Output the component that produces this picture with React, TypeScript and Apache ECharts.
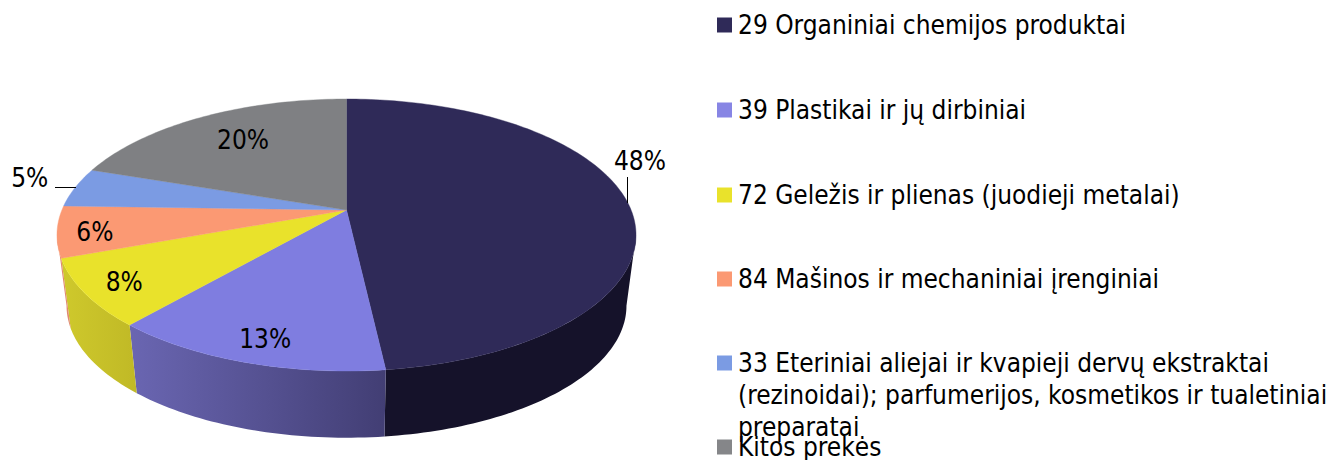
import React, { useEffect, useRef } from "react";
import * as echarts from "echarts";

const categories = [
  "29 Organiniai chemijos produktai",
  "39 Plastikai ir jų dirbiniai",
  "72 Geležis ir plienas (juodieji metalai)",
  "84 Mašinos ir mechaniniai įrenginiai",
  "33 Eteriniai aliejai ir kvapieji dervų ekstraktai",
  "Kitos prekės",
];
const legendContinuation = [
  "(rezinoidai); parfumerijos, kosmetikos ir tualetiniai",
  "preparatai",
];
const shares = [48.2, 13.2, 8.0, 6.1, 4.7, 19.8];

const topColors = ["#2f2a58", "#7f7de0", "#e9e22b", "#fb9973", "#7b9be3", "#7f8083"];
const legendColors = ["#2f2a58", "#8785e4", "#e9e22b", "#fb9973", "#7b9be3", "#858689"];
const sideStops = [
  ["#15122a", "#15122a"],
  ["#6a66b2", "#423e74"],
  ["#cfc92c", "#c0b926"],
  ["#e08a70", "#e08a70"],
  ["#6a86c4", "#6a86c4"],
  ["#6c6d70", "#6c6d70"],
];
const legendTops = [12, 97, 182, 266, 350, 434];
const labelRadius = [1.177, 0.866, 0.87, 0.876, 1.19, 0.71];
const labelNudge = [[-37, -40], [5, 1], [2, 1], [1, 3], [4, -5], [3, -1]];

// Perspective of the pie's disc: top and bottom faces share one foreshortening.
const DEPTH = 0.1838;
const TOP_FACE = { x: 346.5, y: 210, a: 284.6, b: 131.4 };
const BOTTOM_FACE = { x: 346.5, y: 281.5, a: 275.2, b: 127.5 };
const FONT = "'DejaVu Sans Condensed', 'DejaVu Sans', sans-serif";
const FONT_SIZE = 26;

const total = shares.reduce((s, v) => s + v, 0);
const project = (face: typeof TOP_FACE, theta: number, r = 1): number[] => {
  const s = Math.sin(theta);
  const c = Math.cos(theta);
  const w = 1 + DEPTH * r * c;
  return [face.x + (face.a * r * s) / w, face.y - (face.b * r * c) / w];
};
const arc = (face: typeof TOP_FACE, from: number, to: number): number[][] => {
  const n = Math.max(2, Math.ceil(Math.abs(to - from) / 0.02));
  const pts: number[][] = [];
  for (let i = 0; i <= n; i++) pts.push(project(face, from + ((to - from) * i) / n));
  return pts;
};
const FRONT_FROM = Math.acos(-DEPTH);
const FRONT_TO = 2 * Math.PI - FRONT_FROM;

export default function App() {
  const ref = useRef<HTMLDivElement>(null);
  useEffect(() => {
    const chart = echarts.init(ref.current!, undefined, { renderer: "svg" });
    let cum = 0;
    const series = categories.map((name, idx) => {
      const startShare = cum;
      cum += shares[idx];
      return {
        type: "custom",
        name,
        coordinateSystem: "none",
        silent: true,
        itemStyle: { color: legendColors[idx] },
        data: [shares[idx]],
        renderItem: (_p: any, api: any) => {
          const v = api.value(0);
          const t0 = (startShare / total) * 2 * Math.PI;
          const t1 = t0 + (v / total) * 2 * Math.PI;
          const color = topColors[idx];
          const children: any[] = [];
          const f0 = Math.max(t0, FRONT_FROM);
          const f1 = Math.min(t1, FRONT_TO);
          if (f1 > f0) {
            children.push({
              type: "polygon",
              shape: {
                points: [...arc(TOP_FACE, f0, f1), ...arc(BOTTOM_FACE, f1, f0)],
              },
              style: {
                fill: {
                  type: "linear", x: 0, y: 0, x2: 1, y2: 0,
                  colorStops: [
                    { offset: 0, color: sideStops[idx][0] },
                    { offset: 1, color: sideStops[idx][1] },
                  ],
                },
              },
            });
          }
          children.push({
            type: "polygon",
            shape: { points: [[TOP_FACE.x, TOP_FACE.y], ...arc(TOP_FACE, t0, t1)] },
            style: { fill: color, stroke: color, lineWidth: 0.4 },
            z2: 2,
          });
          const mid = (t0 + t1) / 2;
          const [lx, ly] = project(TOP_FACE, mid, labelRadius[idx]);
          children.push({
            type: "text",
            x: lx + labelNudge[idx][0],
            y: ly + labelNudge[idx][1],
            z2: 5,
            style: {
              text: `${Math.round(v)}%`,
              font: `${FONT_SIZE}px ${FONT}`,
              fill: "#000",
              align: "center",
              verticalAlign: "middle",
            },
          });
          return { type: "group", children };
        },
      };
    });
    chart.setOption({
      animation: false,
      legend: categories.map((name, i) => ({
        data: [name],
        left: 717,
        top: legendTops[i],
        padding: 0,
        icon: "rect",
        itemWidth: 15,
        itemHeight: 15,
        itemGap: 0,
        selectedMode: false,
        textStyle: { fontFamily: FONT, fontSize: FONT_SIZE, color: "#000", padding: [0, 0, 0, 1] },
      })),
      series,
      graphic: [
        ...legendContinuation.map((text, i) => ({
          type: "text",
          x: 738,
          y: 395 + i * 32,
          z: 10,
          style: { text, font: `${FONT_SIZE}px ${FONT}`, fill: "#000", verticalAlign: "middle" },
        })),
        { type: "line", z: 10, shape: { x1: 627.5, y1: 177, x2: 627.5, y2: 203 }, style: { stroke: "#000", lineWidth: 1 } },
        { type: "line", z: 10, shape: { x1: 55, y1: 187.5, x2: 76, y2: 187.5 }, style: { stroke: "#000", lineWidth: 1 } },
      ],
    });
    return () => chart.dispose();
  }, []);
  return (
    <div
      ref={ref}
      style={{ position: "absolute", left: 0, top: 0, width: 1332, height: 460, overflow: "hidden", background: "#fff" }}
    />
  );
}
